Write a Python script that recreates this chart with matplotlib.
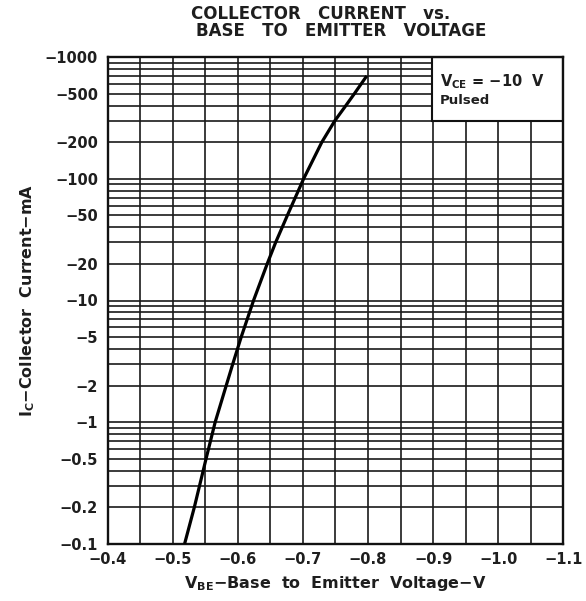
import matplotlib
matplotlib.use("Agg")
import matplotlib.pyplot as plt
from matplotlib.patches import Rectangle
from matplotlib.ticker import LogLocator, MultipleLocator, NullFormatter

plt.rcParams['font.family'] = ['DejaVu Sans']
plt.rcParams['font.weight'] = 'bold'
plt.rcParams['axes.labelweight'] = 'bold'
plt.rcParams['mathtext.default'] = 'regular'

# curve (V and |Ic| in mA)
vbe = [-0.518, -0.533, -0.551, -0.565, -0.582, -0.592, -0.605, -0.624,
       -0.645, -0.658, -0.676, -0.701, -0.729, -0.749, -0.766, -0.779, -0.798]
ic_mag = [0.1, 0.2, 0.5, 1, 2, 3, 5, 10, 20, 30, 50, 100, 200, 300, 400, 500, 700]

x_ticks = [-0.4, -0.5, -0.6, -0.7, -0.8, -0.9, -1.0, -1.1]
x_labels = ['−0.4', '−0.5', '−0.6', '−0.7', '−0.8', '−0.9', '−1.0', '−1.1']
y_ticks = [1000, 500, 200, 100, 50, 20, 10, 5, 2, 1, 0.5, 0.2, 0.1]
y_labels = ['−1000', '−500', '−200', '−100', '−50', '−20', '−10',
            '−5', '−2', '−1', '−0.5', '−0.2', '−0.1']

ink = '#1e1e1e'

fig = plt.figure(figsize=(5.86, 6.01), dpi=100)
ax = fig.add_axes([0.184, 0.095, 0.777, 0.81])

ax.plot(vbe, ic_mag, color='black', lw=2.3, zorder=3,
        solid_capstyle='butt', solid_joinstyle='round')

ax.set_yscale('log')
ax.set_xlim(-0.4, -1.1)
ax.set_ylim(0.1, 1000)

ax.set_xticks(x_ticks, x_labels)
ax.xaxis.set_minor_locator(MultipleLocator(0.05))
ax.set_yticks(y_ticks, y_labels)
ax.yaxis.set_minor_locator(LogLocator(base=10, subs=range(2, 10), numticks=20))
ax.yaxis.set_minor_formatter(NullFormatter())

ax.tick_params(which='both', length=0, labelsize=10.5, labelcolor=ink)
ax.tick_params(axis='y', pad=7)
ax.tick_params(axis='x', pad=6)

ax.set_axisbelow(True)
ax.grid(which='both', color='#1a1a1a', lw=1.2)
for sp in ax.spines.values():
    sp.set_linewidth(1.7)
    sp.set_color('#111111')

# condition box in the upper right corner
ax.add_patch(Rectangle((-0.898, 300), -0.202, 700, facecolor='white',
                       edgecolor='#111111', lw=1.5, zorder=2))
ax.text(-0.91, 630, 'V$_{CE}$ = −10  V', fontsize=10.5,
        color=ink, ha='left', va='center', zorder=4)
ax.text(-0.91, 440, 'Pulsed', fontsize=9.5,
        color=ink, ha='left', va='center', zorder=4)

ax.set_xlabel('V$_{BE}$−Base  to  Emitter  Voltage−V', fontsize=11.5,
              color=ink, labelpad=5)
ax.set_ylabel('I$_{C}$−Collector  Current−mA', fontsize=11.5,
              color=ink, labelpad=6)

fig.text(321 / 586, 0.976, 'COLLECTOR   CURRENT   vs.', ha='center', va='center',
         fontsize=12, color=ink)
fig.text(341 / 586, 0.948, 'BASE   TO   EMITTER   VOLTAGE', ha='center', va='center',
         fontsize=12, color=ink)

fig.savefig('out.png', dpi=100)
